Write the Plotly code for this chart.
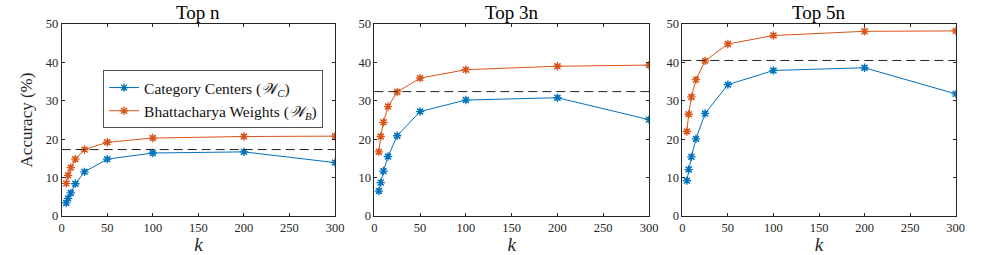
import plotly.graph_objects as go

# ---------------- data ----------------
k_values = [5, 7, 10, 15, 25, 50, 100, 200, 300]
panel_titles = ["Top n", "Top 3n", "Top 5n"]

centers_top_n = [3.4, 4.6, 6.0, 8.4, 11.5, 14.8, 16.4, 16.7, 13.9]
bhatta_top_n = [8.5, 10.6, 12.6, 14.8, 17.3, 19.2, 20.3, 20.7, 20.8]
centers_top_3n = [6.5, 8.7, 11.7, 15.5, 20.9, 27.2, 30.2, 30.8, 25.1]
bhatta_top_3n = [16.7, 20.7, 24.4, 28.5, 32.3, 35.9, 38.1, 39.0, 39.3]
centers_top_5n = [9.2, 12.1, 15.4, 20.1, 26.7, 34.2, 37.9, 38.6, 31.8]
bhatta_top_5n = [22.0, 26.5, 31.0, 35.5, 40.4, 44.8, 47.0, 48.1, 48.2]

centers_err = [0.5, 0.5, 0.5, 0.5, 0.5, 0.5, 0.5, 0.5, 0.5]
bhatta_err = [0.5, 0.5, 0.5, 0.5, 0.5, 0.5, 0.5, 0.5, 0.5]

baseline = [17.3, 32.4, 40.5]

x_ticks = [0, 50, 100, 150, 200, 250, 300]
y_ticks = [0, 10, 20, 30, 40, 50]

centers_all = [centers_top_n, centers_top_3n, centers_top_5n]
bhatta_all = [bhatta_top_n, bhatta_top_3n, bhatta_top_5n]

name_c = "Category Centers (<i>𝒲</i><sub><i>C</i></sub>)"
name_b = "Bhattacharya Weights (<i>𝒲</i><sub><i>B</i></sub>)"

BLUE = "#0072BD"
ORANGE = "#D95319"
AX = "#262626"
FONT = "Liberation Serif"

W, H = 981, 255
x_px = [(61.7, 335.0), (374.3, 649.0), (682.3, 955.7)]
y_px = (24.0, 216.0)


def fx(px):
    return px / W


def fy(py):
    return 1 - py / H


fig = go.Figure()

for i in range(3):
    xa = "x" if i == 0 else f"x{i+1}"
    ya = "y" if i == 0 else f"y{i+1}"
    for vals, err, col, nm in [(centers_all[i], centers_err, BLUE, name_c),
                               (bhatta_all[i], bhatta_err, ORANGE, name_b)]:
        fig.add_trace(go.Scatter(
            x=k_values, y=vals, xaxis=xa, yaxis=ya, mode="lines+markers",
            name=nm, showlegend=(i == 0), legendgroup=nm,
            line=dict(color=col, width=1),
            marker=dict(symbol="asterisk-open", size=7,
                        line=dict(color=col, width=1.3), color=col),
            error_y=dict(type="data", array=err, visible=True,
                         color=col, thickness=1, width=3),
        ))
    fig.add_shape(type="line", xref=f"{xa} domain", yref=ya,
                  x0=0, x1=1, y0=baseline[i], y1=baseline[i],
                  line=dict(color="#222222", width=1, dash="9px,5px"))

    dom_x = [fx(x_px[i][0]), fx(x_px[i][1])]
    dom_y = [fy(y_px[1]), fy(y_px[0])]
    axis_common = dict(showline=True, linecolor=AX, linewidth=0.8, mirror="ticks",
                       ticks="inside", ticklen=3, tickcolor=AX, tickwidth=0.8,
                       showgrid=False, zeroline=False,
                       tickfont=dict(family=FONT, size=12.5, color=AX),
                       automargin=False)
    yaxis_def = dict(domain=dom_y, range=[0, 50], tickvals=y_ticks, anchor=xa,
                     **axis_common)
    if i == 0:
        yaxis_def["title"] = dict(text="Accuracy (%)",
                                  font=dict(family=FONT, size=17, color=AX),
                                  standoff=8)
    fig.update_layout(**{
        ("xaxis" if i == 0 else f"xaxis{i+1}"): dict(
            domain=dom_x, range=[0, 300], tickvals=x_ticks, anchor=ya,
            title=dict(text="<i>k</i>", font=dict(family=FONT, size=19, color=AX), standoff=3),
            **axis_common),
        ("yaxis" if i == 0 else f"yaxis{i+1}"): yaxis_def,
    })
    fig.add_annotation(text=panel_titles[i], xref="paper", yref="paper",
                       x=fx((x_px[i][0] + x_px[i][1]) / 2), y=fy(12),
                       xanchor="center", yanchor="middle", showarrow=False,
                       font=dict(family=FONT, size=19, color="#000000"))

fig.update_layout(
    width=W, height=H,
    margin=dict(l=0, r=0, t=0, b=0),
    paper_bgcolor="white", plot_bgcolor="white",
    font=dict(family=FONT, color=AX),
    legend=dict(x=fx(103.3), y=fy(70.2), xanchor="left", yanchor="top",
                bgcolor="white", bordercolor=AX, borderwidth=0.8,
                font=dict(family=FONT, size=15.5, color="#111111"),
                tracegroupgap=0, itemwidth=30),
)

fig.write_html("out.html",
               config={"displayModeBar": False},
               post_script="document.body.style.margin='0px';"
                           "document.body.style.overflow='hidden';")
